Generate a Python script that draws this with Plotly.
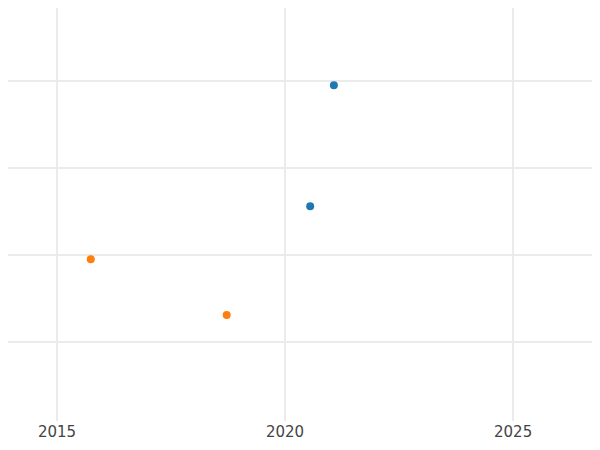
import plotly.graph_objects as go

blue_x = [2021.07, 2020.55]
blue_y = [3.95, 2.56]
orange_x = [2015.74, 2018.72]
orange_y = [1.95, 1.31]

fig = go.Figure()
fig.add_trace(go.Scatter(x=blue_x, y=blue_y, mode="markers",
                         marker=dict(color="#1f77b4", size=8)))
fig.add_trace(go.Scatter(x=orange_x, y=orange_y, mode="markers",
                         marker=dict(color="#ff7f0e", size=8)))
fig.update_layout(
    width=600, height=450, showlegend=False,
    paper_bgcolor="white", plot_bgcolor="white",
    margin=dict(l=0, r=0, t=0, b=37),
    font=dict(family="DejaVu Sans", size=15, color="#444"),
    xaxis=dict(range=[2013.925, 2027.08], tickvals=[2015, 2020, 2025],
               showgrid=True, gridcolor="#ebebeb", gridwidth=2, zeroline=False,
               ticks=""),
    yaxis=dict(range=[0.092, 4.839], tickvals=[1, 2, 3, 4], showticklabels=False,
               showgrid=True, gridcolor="#ebebeb", gridwidth=2, zeroline=False),
)
fig.write_html("out.html")
